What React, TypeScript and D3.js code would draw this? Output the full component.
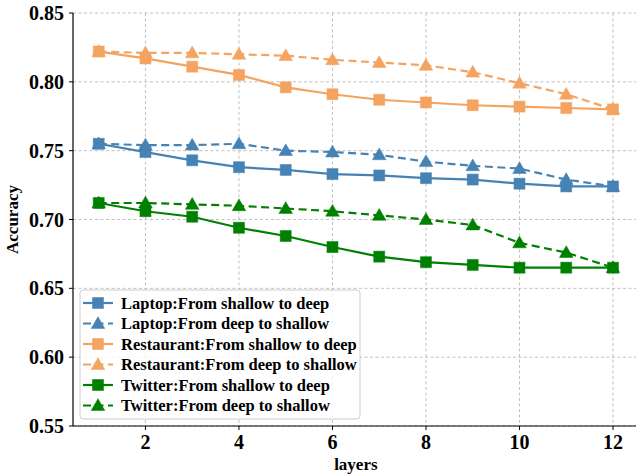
import React from 'react';
import * as d3 from 'd3';

const layers = [1, 2, 3, 4, 5, 6, 7, 8, 9, 10, 11, 12];
const laptopShallowDeep = [0.755, 0.749, 0.743, 0.738, 0.736, 0.733, 0.732, 0.730, 0.729, 0.726, 0.724, 0.724];
const laptopDeepShallow = [0.755, 0.754, 0.754, 0.755, 0.750, 0.749, 0.747, 0.742, 0.739, 0.737, 0.729, 0.724];
const restShallowDeep = [0.822, 0.817, 0.811, 0.805, 0.796, 0.791, 0.787, 0.785, 0.783, 0.782, 0.781, 0.780];
const restDeepShallow = [0.822, 0.821, 0.821, 0.820, 0.819, 0.816, 0.814, 0.812, 0.807, 0.799, 0.791, 0.780];
const twShallowDeep = [0.712, 0.706, 0.702, 0.694, 0.688, 0.680, 0.673, 0.669, 0.667, 0.665, 0.665, 0.665];
const twDeepShallow = [0.712, 0.712, 0.711, 0.710, 0.708, 0.706, 0.703, 0.700, 0.696, 0.683, 0.676, 0.665];
const xTicks = [2, 4, 6, 8, 10, 12];
const yTicks = [0.55, 0.6, 0.65, 0.7, 0.75, 0.8, 0.85];

const series = [
  { name: 'Laptop:From shallow to deep', values: laptopShallowDeep, color: '#4682b4', marker: 'square', dashed: false },
  { name: 'Laptop:From deep to shallow', values: laptopDeepShallow, color: '#4682b4', marker: 'triangle', dashed: true },
  { name: 'Restaurant:From shallow to deep', values: restShallowDeep, color: '#f4a460', marker: 'square', dashed: false },
  { name: 'Restaurant:From deep to shallow', values: restDeepShallow, color: '#f4a460', marker: 'triangle', dashed: true },
  { name: 'Twitter:From shallow to deep', values: twShallowDeep, color: '#008000', marker: 'square', dashed: false },
  { name: 'Twitter:From deep to shallow', values: twDeepShallow, color: '#008000', marker: 'triangle', dashed: true },
];

const W = 636;
const H = 474;
const font = '"Liberation Serif", "Times New Roman", serif';

function Marker({ type, x, y, color }: { type: string; x: number; y: number; color: string }) {
  if (type === 'square') {
    const s = 11;
    return <rect x={x - s / 2} y={y - s / 2} width={s} height={s} fill={color} stroke={color} strokeOpacity={0.5} strokeWidth={1} />;
  }
  const sym = d3.symbol(d3.symbolTriangle, 80)();
  return <path d={sym || ''} transform={`translate(${x},${y + 1})`} fill={color} stroke={color} strokeOpacity={0.5} strokeWidth={1} />;
}

export default function App() {
  const x = d3.scaleLinear().domain([0.45, 12.55]).range([73, 638.7]);
  const y = d3.scaleLinear().domain([0.55, 0.85]).range([426, 13]);
  const line = d3.line<number>().x((_, i) => x(layers[i])).y(d => y(d));

  const legX = 80, legY = 290, legRow = 20.5;

  return (
    <svg width={W} height={H} style={{ position: 'absolute', left: 0, top: 0, background: '#fff' }} fontFamily={font}>
      {/* grid */}
      <g stroke="#b0b0b0" strokeWidth={0.8} strokeDasharray="3,2.5">
        {xTicks.map(t => <line key={'gx' + t} x1={x(t)} x2={x(t)} y1={y(0.85)} y2={y(0.55)} />)}
        {yTicks.map(t => <line key={'gy' + t} x1={x(0.45)} x2={W} y1={y(t)} y2={y(t)} />)}
      </g>
      {/* series */}
      {series.map(s => (
        <g key={s.name}>
          <path d={line(s.values) || ''} fill="none" stroke={s.color} strokeWidth={2.2} strokeDasharray={s.dashed ? '8,4.5' : undefined} />
          {s.values.map((v, i) => <Marker key={i} type={s.marker} x={x(layers[i])} y={y(v)} color={s.color} />)}
        </g>
      ))}
      {/* axes */}
      <line x1={73} x2={73} y1={y(0.85)} y2={y(0.55)} stroke="#000" strokeWidth={1.2} />
      <line x1={73} x2={W} y1={426} y2={426} stroke="#000" strokeWidth={1.2} />
      {yTicks.map(t => (
        <g key={'yt' + t}>
          <line x1={69} x2={73} y1={y(t)} y2={y(t)} stroke="#000" />
          <text x={64} y={y(t)} dy="0.35em" textAnchor="end" fontSize={20} fontWeight="bold">{t.toFixed(2)}</text>
        </g>
      ))}
      {xTicks.map(t => (
        <g key={'xt' + t}>
          <line x1={x(t)} x2={x(t)} y1={426} y2={430} stroke="#000" />
          <text x={x(t)} y={449} textAnchor="middle" fontSize={20} fontWeight="bold">{t}</text>
        </g>
      ))}
      <text x={(73 + 638.7) / 2} y={470} textAnchor="middle" fontSize={17} fontWeight="bold">layers</text>
      <text transform={`translate(18,${(13 + 426) / 2}) rotate(-90)`} textAnchor="middle" fontSize={17} fontWeight="bold">Accuracy</text>
      {/* legend */}
      <rect x={legX} y={legY} width={280} height={129} rx={3} fill="#fff" fillOpacity={0.8} stroke="#cccccc" />
      {series.map((s, i) => {
        const ly = legY + 13 + i * legRow;
        return (
          <g key={'lg' + s.name}>
            <line x1={83} x2={113} y1={ly} y2={ly} stroke={s.color} strokeWidth={2.2} strokeDasharray={s.dashed ? '8,4.5' : undefined} />
            <Marker type={s.marker} x={98} y={ly} color={s.color} />
            <text x={121} y={ly} dy="0.35em" fontSize={16.5} fontWeight="bold">{s.name}</text>
          </g>
        );
      })}
    </svg>
  );
}
